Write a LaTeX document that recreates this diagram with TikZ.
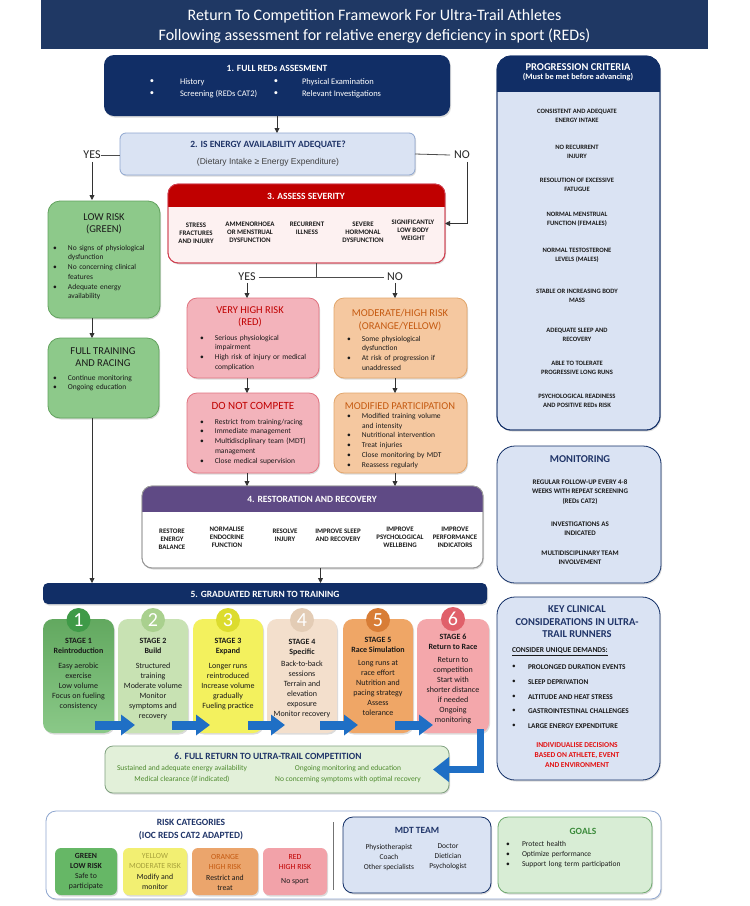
\documentclass[tikz,border=0pt]{standalone}
\usepackage{fontspec}
\setmainfont{Carlito}
\newfontfamily\arialf{Liberation Sans}
\usetikzlibrary{arrows.meta,shadows,calc}
\definecolor{titlebg}{HTML}{1F3864}
\definecolor{navy}{HTML}{112E66}
\definecolor{navytxt}{HTML}{1F3468}
\definecolor{lblue}{HTML}{DAE3F3}
\definecolor{lblueb}{HTML}{8EA6CF}
\definecolor{sevred}{HTML}{C00000}
\definecolor{sevbody}{HTML}{FDF1F1}
\definecolor{sevb}{HTML}{D04050}
\definecolor{purp}{HTML}{5F4A85}
\definecolor{grn}{HTML}{8DC98A}
\definecolor{grnb}{HTML}{62A25E}
\definecolor{redfill}{HTML}{F3B3BB}
\definecolor{redb}{HTML}{E07480}
\definecolor{redtxt}{HTML}{C00000}
\definecolor{orfill}{HTML}{F5C8A0}
\definecolor{orb}{HTML}{E2A66C}
\definecolor{ortxt}{HTML}{C55A11}
\definecolor{txt}{HTML}{1A1A1A}
\definecolor{arrblue}{HTML}{1F6FC5}
\definecolor{sAf}{HTML}{6DBB6A}\definecolor{sAc}{HTML}{3F9A48}
\definecolor{sBf}{HTML}{C8E2B3}\definecolor{sBc}{HTML}{A9D08E}
\definecolor{sCf}{HTML}{F3F15E}\definecolor{sCc}{HTML}{DCDC2E}
\definecolor{sDf}{HTML}{F3DFCC}\definecolor{sDc}{HTML}{E3CCB5}
\definecolor{sEf}{HTML}{EFA666}\definecolor{sEc}{HTML}{D87D36}
\definecolor{sFf}{HTML}{F4A7AB}\definecolor{sFc}{HTML}{E0606A}
\definecolor{frfill}{HTML}{E2F0D9}
\definecolor{frb}{HTML}{7FA07F}
\definecolor{frtxt}{HTML}{4E8A2E}
\definecolor{goalfill}{HTML}{D8EDD5}
\definecolor{goalb}{HTML}{6FAA6F}
\definecolor{goaltxt}{HTML}{3A8A3A}
\definecolor{yeltxt}{HTML}{A8A23C}
\definecolor{kred}{HTML}{E31010}
\definecolor{lgA}{HTML}{66B766}\definecolor{lgB}{HTML}{F2EF72}
\definecolor{lgC}{HTML}{EBA56C}\definecolor{lgD}{HTML}{F2A2A9}
\newcommand{\fs}[2]{\fontsize{#1}{#2}\selectfont}
\newcommand{\bl}[2][15pt]{\hangindent=#1\hangafter=1\noindent\makebox[#1][l]{\textbullet}#2\par}
\newcommand{\bx}[6]{%
  \pgfmathsetmacro{\bxw}{#5-#3}%
  \pgfmathsetmacro{\bxh}{#6-#4}%
  \node[#1,anchor=north west,minimum width=\bxw pt,minimum height=\bxh pt,inner sep=0pt] (#2) at (#3,#4) {};}
\newcommand{\hdr}[4]{%
  \begin{scope}
  \clip[rounded corners=#4] (#1.south west) rectangle (#1.north east);
  \fill[#2] (#1.north west) rectangle ([yshift=-#3]#1.north east);
  \end{scope}}
\begin{document}
\begin{tikzpicture}[x=1pt,y=-1pt,
  every node/.style={inner sep=0pt,outer sep=0pt,text=txt},
  shad/.style={drop shadow={shadow xshift=1pt,shadow yshift=-1.5pt,opacity=0.28}},
  arr/.style={draw=black!80,line width=0.8pt,-{Triangle[length=5pt,width=5pt]}},
  ln/.style={draw=black!70,line width=0.8pt},
  barrow/.style={draw=arrblue,line width=9pt,-{Triangle[length=14pt,width=20pt]}},
  yn/.style={font=\fs{12}{14},text=black!85},
  sm/.style={font=\bfseries\fs{6.9}{8.2},align=center,anchor=north},
  pc/.style={font=\bfseries\fs{6.6}{8.8},align=center},
  bul/.style={anchor=north west,align=left,text width=#1,font=\fs{7.5}{9.7}},
  stg/.style={anchor=north,align=center,font=\fs{8}{10}},
  circ/.style={circle,minimum size=24pt,text=white,font=\fs{20}{20}},
]
\useasboundingbox[fill=white] (0,0) rectangle (750,906);

% ---------- title
\bx{fill=titlebg}{title}{41}{0}{708}{49}
\node[text=white,font=\fs{16}{20.5},align=center] at ([yshift=-2pt]title.center) {Return To Competition Framework For Ultra-Trail Athletes\\Following assessment for relative energy deficiency in sport (REDs)};

% ---------- box 1
\bx{fill=navy,rounded corners=10pt,shad}{b1}{104}{55}{450}{116}
\node[text=white,font=\bfseries\fs{9.5}{11}] at (277,68) {1. FULL REDs ASSESMENT};
\foreach \yy/\ta/\tb in {82/History/Physical Examination,94/Screening (REDs CAT2)/Relevant Investigations}{
  \node[text=white,font=\fs{8.5}{10}] at (152,\yy) {\textbullet};
  \node[text=white,font=\fs{8.5}{10},anchor=west] at (180,\yy) {\ta};
  \node[text=white,font=\fs{8.5}{10}] at (276,\yy) {\textbullet};
  \node[text=white,font=\fs{8.5}{10},anchor=west] at (302,\yy) {\tb};
}

% ---------- box 2
\bx{fill=lblue,draw=lblueb,line width=0.8pt,rounded corners=6pt,shad}{b2}{120}{133}{415}{175}
\node[text=navytxt,font=\bfseries\fs{9.5}{11}] at (268,145) {2. IS ENERGY AVAILABILITY ADEQUATE?};
\node[text=black!75,font=\arialf\fs{8.5}{10}] at (268,162) {(Dietary Intake ≥ Energy Expenditure)};
\draw[arr] (b1.south) -- (b1.south |- b2.north);

\node[yn] (yes1) at (92,155) {YES};
\node[yn] (no1) at (462,155) {NO};

% ---------- severity
\bx{fill=sevbody,draw=sevb,line width=0.8pt,rounded corners=10pt,shad}{sev}{168}{184}{445}{263}
\hdr{sev}{sevred}{23pt}{10pt}
\draw[sevb,line width=0.8pt,rounded corners=10pt] (sev.south west) rectangle (sev.north east);
\node[text=white,font=\bfseries\fs{9.5}{11}] at (306,196) {3. ASSESS SEVERITY};
\node[sm] at (196,223) {STRESS\\FRACTURES\\AND INJURY};
\node[sm] at (250,222) {AMMENORHOEA\\OR MENSTRUAL\\DYSFUNCTION};
\node[sm] at (307,222) {RECURRENT\\ILLNESS};
\node[sm] at (363,222) {SEVERE\\HORMONAL\\DYSFUNCTION};
\node[sm] at (413,220) {SIGNIFICANTLY\\LOW BODY\\WEIGHT};

\draw[ln] (yes1.east) -- (yes1.east -| b2.west);
\draw[ln] (b2.east) -- ([xshift=-4pt]no1.west);
\draw[arr] ([yshift=-3pt]yes1.south) -- (yes1.south |- 0,200);
\draw[arr] ([xshift=5pt,yshift=-3pt]no1.south) |- (sev.east);

% ---------- low risk column
\bx{fill=grn,draw=grnb,line width=0.8pt,rounded corners=12pt,shad}{low}{48}{201}{160}{318}
\node[font=\fs{10.5}{12.5},align=center] at (104,224) {LOW RISK\\(GREEN)};
\node[bul=110pt] at (53,245) {\bl{No signs of physiological\newline dysfunction}\bl{No concerning clinical\newline features}\bl{Adequate energy\newline availability}};
\bx{fill=grn,draw=grnb,line width=0.8pt,rounded corners=12pt,shad}{full}{48}{338}{159}{418}
\node[font=\fs{10.5}{12.5},align=center] at (103,357) {FULL TRAINING\\AND RACING};
\node[bul=110pt] at (53,375) {\bl{Continue monitoring}\bl{Ongoing education}};

% ---------- YES/NO after severity
\node[yn] (yes2) at (247,277) {YES};
\node[yn] (no2) at (395,277) {NO};
\draw[ln] ([xshift=10pt]sev.south) -- ([xshift=10pt]sev.south |- yes2);
\draw[ln] ([xshift=3pt]yes2.east) -- ([xshift=-3pt]no2.west);

% ---------- red / orange
\bx{fill=redfill,draw=redb,line width=0.8pt,rounded corners=10pt,shad}{red}{187}{298}{319}{378}
\node[text=redtxt,font=\fs{10.5}{12.5},align=center] at (250,317) {VERY HIGH RISK\\(RED)};
\node[bul=115pt] at (200,335) {\bl{Serious physiological\newline impairment}\bl{High risk of injury or medical\newline complication}};
\bx{fill=orfill,draw=orb,line width=0.8pt,rounded corners=10pt,shad}{ora}{334}{298}{467}{378}
\node[text=ortxt,font=\fs{10.5}{12.5},align=center] at (400,320) {MODERATE/HIGH RISK\\(ORANGE/YELLOW)};
\node[bul=115pt] at (347,336) {\bl{Some physiological\newline dysfunction}\bl{At risk of progression if\newline unaddressed}};

\bx{fill=redfill,draw=redb,line width=0.8pt,rounded corners=10pt,shad}{dnc}{187}{393}{319}{473}
\node[text=redtxt,font=\fs{11}{13}] at (253,406) {DO NOT COMPETE};
\node[bul=115pt] at (200,419) {\bl{Restrict from training/racing}\bl{Immediate management}\bl{Multidisciplinary team (MDT)\newline management}\bl{Close medical supervision}};
\bx{fill=orfill,draw=orb,line width=0.8pt,rounded corners=10pt,shad}{mod}{334}{393}{467}{473}
\node[text=ortxt,font=\fs{10.5}{12.5}] at (400,406) {MODIFIED PARTICIPATION};
\node[bul=115pt,font=\fs{7.5}{9.8}] at (347,413) {\bl{Modified training volume\newline and intensity}\bl{Nutritional intervention}\bl{Treat injuries}\bl{Close monitoring by MDT}\bl{Reassess regularly}};

\draw[arr] ([yshift=-2pt]yes2.south) -- (yes2.south |- red.north);
\draw[arr] ([yshift=-2pt]no2.south) -- (no2.south |- ora.north);
\draw[arr] (red.south -| yes2) -- (dnc.north -| yes2);
\draw[arr] (ora.south -| no2) -- (mod.north -| no2);

% ---------- restoration
\bx{fill=white,draw=black!40,line width=0.8pt,rounded corners=10pt,shad}{rest}{142}{486}{483}{568}
\hdr{rest}{purp}{26pt}{10pt}
\draw[black!40,line width=0.8pt,rounded corners=10pt] (rest.south west) rectangle (rest.north east);
\node[text=white,font=\bfseries\fs{9.5}{11}] at (312,499) {4. RESTORATION AND RECOVERY};
\node[sm] at (172,529) {RESTORE\\ENERGY\\BALANCE};
\node[sm] at (227,527) {NORMALISE\\ENDOCRINE\\FUNCTION};
\node[sm] at (285,529) {RESOLVE\\INJURY};
\node[sm] at (338,529) {IMPROVE SLEEP\\AND RECOVERY};
\node[sm] at (400,527) {IMPROVE\\PSYCHOLOGICAL\\WELLBEING};
\node[sm] at (455,527) {IMPROVE\\PERFORMANCE\\INDICATORS};
\draw[arr] (dnc.south -| yes2) -- (rest.north -| yes2);
\draw[arr] (mod.south -| no2) -- (rest.north -| no2);

% ---------- graduated
\bx{fill=navy,rounded corners=5pt,shad}{grad}{43}{583}{487}{604}
\node[text=white,font=\bfseries\fs{9.5}{11}] at (265,594) {5. GRADUATED RETURN TO TRAINING};
\draw[arr] ([xshift=8pt]rest.south) -- ([xshift=8pt]rest.south |- grad.north);
\draw[arr] (low.south -| yes1) -- (full.north -| yes1);
\draw[arr] (full.south -| yes1) -- (grad.north -| yes1);

% ---------- stages
\bx{top color=sAf!90!black,bottom color=sAf!80!white,rounded corners=10pt,shad}{s1}{43}{619}{114}{733}
\bx{fill=sBf,rounded corners=10pt,shad}{s2}{118}{619}{188}{733}
\bx{fill=sCf,rounded corners=10pt,shad}{s3}{193}{619}{263}{733}
\bx{fill=sDf,rounded corners=10pt,shad}{s4}{267}{619}{337}{733}
\bx{fill=sEf,rounded corners=10pt,shad}{s5}{343}{619}{413}{733}
\bx{fill=sFf,rounded corners=10pt,shad}{s6}{417}{619}{489}{733}
\node[circ,fill=sAc] (c1) at (78.5,620) {1};
\node[circ,fill=sBc] (c2) at (153,620) {2};
\node[circ,fill=sCc] (c3) at (228,620) {3};
\node[circ,fill=sDc] (c4) at (302,620) {4};
\node[circ,fill=sEc] (c5) at (378,620) {5};
\node[circ,fill=sFc] (c6) at (453,619) {6};
\node[stg] at (78.5,638) {\textbf{STAGE 1}\\\textbf{Reintroduction}\\[5pt]Easy aerobic\\exercise\\Low volume\\Focus on fueling\\consistency};
\node[stg] at (153,638) {\textbf{STAGE 2}\\\textbf{Build}\\[5pt]Structured\\training\\Moderate volume\\Monitor\\symptoms and\\recovery};
\node[stg] at (228,638) {\textbf{STAGE 3}\\\textbf{Expand}\\[5pt]Longer runs\\reintroduced\\Increase volume\\gradually\\Fueling practice};
\node[stg] at (302,639) {\textbf{STAGE 4}\\\textbf{Specific}\\[2pt]Back-to-back\\sessions\\Terrain and\\elevation\\exposure\\Monitor recovery};
\node[stg] at (378,637) {\textbf{STAGE 5}\\\textbf{Race Simulation}\\[3pt]Long runs at\\race effort\\Nutrition and\\pacing strategy\\Assess\\tolerance};
\node[stg] at (453,634) {\textbf{STAGE 6}\\\textbf{Return to Race}\\[3pt]Return to\\competition\\Start with\\shorter distance\\if needed\\Ongoing\\monitoring};
\draw[barrow] ([xshift=-19pt,yshift=8pt]s1.south east) -- ([xshift=17pt,yshift=8pt]s2.south west);
\draw[barrow] ([xshift=-16pt,yshift=8pt]s2.south east) -- ([xshift=17pt,yshift=8pt]s3.south west);
\draw[barrow] ([xshift=-15pt,yshift=8pt]s3.south east) -- ([xshift=18pt,yshift=8pt]s4.south west);
\draw[barrow] ([xshift=-17pt,yshift=8pt]s4.south east) -- ([xshift=15pt,yshift=8pt]s5.south west);
\draw[barrow] ([xshift=-18pt,yshift=8pt]s5.south east) -- ([xshift=16pt,yshift=8pt]s6.south west);

% ---------- full return
\bx{fill=frfill,draw=frb,line width=0.8pt,rounded corners=8pt,shad}{fr}{105}{746}{449}{793}
\node[text=navytxt,font=\bfseries\fs{9.5}{11}] at (268,756) {6. FULL RETURN TO ULTRA-TRAIL COMPETITION};
\node[text=frtxt,font=\fs{7.5}{11},align=center] at (182,774) {Sustained and adequate energy availability\\Medical clearance (if indicated)};
\node[text=frtxt,font=\fs{7.5}{11},align=center] at (348,774) {Ongoing monitoring and education\\No concerning symptoms with optimal recovery};
\draw[draw=arrblue,line width=7pt,-{Triangle[length=16pt,width=24pt]}] ([xshift=-9pt,yshift=4pt]s6.south east) |- ([xshift=-16pt]fr.east);

% ---------- right column
\bx{fill=lblue,draw=navy,line width=0.8pt,rounded corners=14pt,shad}{prog}{497}{56}{660}{430}
\hdr{prog}{navy}{36pt}{14pt}
\draw[navy,line width=0.8pt,rounded corners=14pt] (prog.south west) rectangle (prog.north east);
\node[text=white,font=\bfseries\fs{10.5}{12}] at (578,67) {PROGRESSION CRITERIA};
\node[text=white,font=\bfseries\fs{8.3}{10}] at (578,77.5) {(Must be met before advancing)};
\node[pc] at (577,116) {CONSISTENT AND ADEQUATE\\ENERGY INTAKE};
\node[pc] at (577,152) {NO RECURRENT\\INJURY};
\node[pc] at (577,185) {RESOLUTION OF EXCESSIVE\\FATUGUE};
\node[pc] at (577,219.5) {NORMAL MENSTRUAL\\FUNCTION (FEMALES)};
\node[pc] at (577,255.5) {NORMAL TESTOSTERONE\\LEVELS (MALES)};
\node[pc] at (577,295.5) {STABLE OR INCREASING BODY\\MASS};
\node[pc] at (577,334.5) {ADEQUATE SLEEP AND\\RECOVERY};
\node[pc] at (577,367.5) {ABLE TO TOLERATE\\PROGRESSIVE LONG RUNS};
\node[pc] at (577,400.5) {PSYCHOLOGICAL READINESS\\AND POSITIVE REDs RISK};

\bx{fill=lblue,draw=navy,line width=0.8pt,rounded corners=18pt,shad}{mon}{497}{446}{661}{583}
\node[text=navytxt,font=\bfseries\fs{10.5}{12}] at (580,459) {MONITORING};
\node[pc,font=\bfseries\fs{7}{9.2}] at (580,492) {REGULAR FOLLOW-UP EVERY 4-8\\WEEKS WITH REPEAT SCREENING\\(REDs CAT2)};
\node[pc,font=\bfseries\fs{7}{9.2}] at (580,528.5) {INVESTIGATIONS AS\\INDICATED};
\node[pc,font=\bfseries\fs{7}{9.2}] at (580,558) {MULTIDISCIPLINARY TEAM\\INVOLVEMENT};

\bx{fill=lblue,draw=navy,line width=0.8pt,rounded corners=18pt,shad}{key}{497}{597}{660}{780}
\node[text=navytxt,font=\bfseries\fs{10.5}{12.5},align=center] at (577,622) {KEY CLINICAL\\CONSIDERATIONS IN ULTRA-\\TRAIL RUNNERS};
\node[font=\bfseries\fs{7.5}{9},anchor=west] at (512,652) {\underline{CONSIDER UNIQUE DEMANDS:}};
\foreach \yy/\tt in {667/PROLONGED DURATION EVENTS,682/SLEEP DEPRIVATION,697/ALTITUDE AND HEAT STRESS,711/GASTROINTESTINAL CHALLENGES,726/LARGE ENERGY EXPENDITURE}{
  \node[font=\fs{7.3}{9}] at (514,\yy) {\textbullet};
  \node[font=\bfseries\fs{7.3}{9},anchor=west] at (528,\yy) {\tt};
}
\node[text=kred,font=\bfseries\fs{7.5}{10},align=center] at (577,755) {INDIVIDUALISE DECISIONS\\BASED ON ATHLETE, EVENT\\AND ENVIRONMENT};

% ---------- bottom legend
\bx{fill=white,draw=lblueb,line width=0.8pt,rounded corners=10pt,shad}{leg}{46}{811}{661}{899}
\node[text=navytxt,font=\bfseries\fs{9.5}{13},align=center] at (191,830) {RISK CATEGORIES\\(IOC REDS CAT2 ADAPTED)};
\bx{fill=lgA,rounded corners=6pt,shad}{rA}{55}{848}{117}{895}
\bx{fill=lgB,rounded corners=6pt,shad}{rB}{123}{848}{187}{895}
\bx{fill=lgC,rounded corners=6pt,shad}{rC}{192}{848}{258}{895}
\bx{fill=lgD,rounded corners=6pt,shad}{rD}{263}{848}{327}{895}
\node[font=\fs{7.8}{10.2},align=center] at (rA.center) {\textbf{GREEN}\\\textbf{LOW RISK}\\Safe to\\participate};
\node[font=\fs{7.8}{10.2},align=center] at (rB.center) {\textcolor{yeltxt}{YELLOW}\\\textcolor{yeltxt}{MODERATE RISK}\\Modify and\\monitor};
\node[font=\fs{7.8}{10.2},align=center] at ([yshift=-1pt]rC.center) {\textcolor{ortxt}{ORANGE}\\\textcolor{ortxt}{HIGH RISK}\\Restrict and\\treat};
\node[font=\fs{7.8}{10.2},align=center] at ([yshift=2pt]rD.center) {\textcolor{redtxt}{RED}\\\textcolor{redtxt}{HIGH RISK}\\[4pt]No sport};
\draw[black!55,line width=0.6pt] (333,822) -- (333,890);
\bx{fill=lblue,draw=navy,line width=0.8pt,rounded corners=10pt,shad}{mdt}{343}{817}{491}{893}
\node[text=navytxt,font=\bfseries\fs{9.5}{11}] at (417,830) {MDT TEAM};
\node[font=\fs{7.5}{10},align=center] at (389,857) {Physiotherapist\\Coach\\Other specialists};
\node[font=\fs{7.5}{10},align=center] at (448,857) {Doctor\\Dietician\\Psychologist};
\bx{fill=goalfill,draw=goalb,line width=0.8pt,rounded corners=10pt,shad}{goal}{498}{817}{652}{893}
\node[text=goaltxt,font=\bfseries\fs{9.5}{11}] at (583,831) {GOALS};
\node[bul=150pt,font=\fs{7.5}{10}] at (506,841) {\bl[16pt]{Protect health}\bl[16pt]{Optimize performance}\bl[16pt]{Support long term participation}};
\end{tikzpicture}
\end{document}
